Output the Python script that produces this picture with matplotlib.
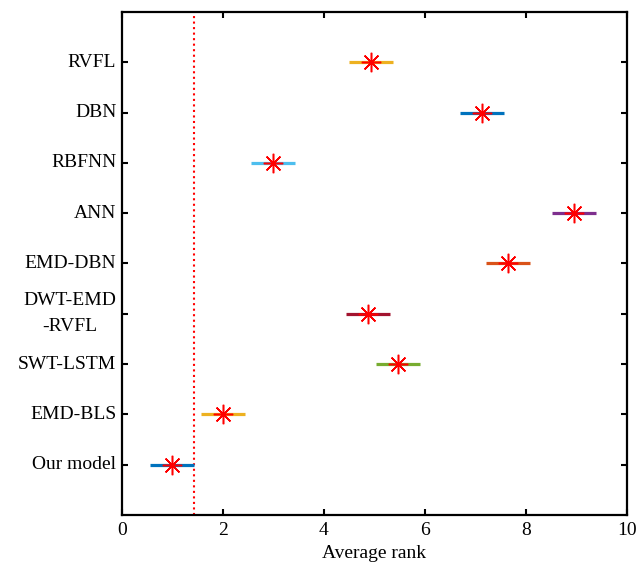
import matplotlib
matplotlib.use("Agg")
import matplotlib.pyplot as plt

models = ["Our model", "EMD-BLS", "SWT-LSTM", "DWT-EMD\n-RVFL", "EMD-DBN",
          "ANN", "RBFNN", "DBN", "RVFL"]
avg_rank = [1.0, 2.0, 5.47, 4.88, 7.65, 8.95, 3.0, 7.13, 4.94]
half_cd = 0.435
colors = ["#0072BD", "#EDB120", "#77AC30", "#A2142F", "#D95319",
          "#7E2F8E", "#4DBEEE", "#0072BD", "#EDB120"]
xticks = [0, 2, 4, 6, 8, 10]

plt.rcParams['font.family'] = ['Liberation Serif', 'DejaVu Serif']

fig = plt.figure(figsize=(6.38, 5.63), dpi=100)
ax = fig.add_axes([0.191, 0.0853, 0.792, 0.8934])

for i, (r, c) in enumerate(zip(avg_rank, colors)):
    y = i + 1
    ax.plot([r - half_cd, r + half_cd], [y, y], color=c, lw=2.3, solid_capstyle='butt', zorder=2)
    ax.plot([r], [y], marker=(8, 2, 0), color='red', markersize=14, mew=1.1, zorder=3)

ax.axvline(avg_rank[0] + half_cd, color='red', ls=':', lw=1.5, zorder=1)

ax.set_xlim(0, 10)
ax.set_ylim(0, 10)
ax.set_xticks(xticks)
ax.set_xticklabels([str(t) for t in xticks])
ax.set_yticks(range(1, len(models) + 1))
ax.set_yticklabels(models, multialignment='center', linespacing=1.7, va='center')
ax.tick_params(direction='in', top=True, right=True, length=4.5, width=1.5, labelsize=14)
ax.tick_params(axis='y', pad=4)
ax.tick_params(axis='x', pad=5)
for s in ax.spines.values():
    s.set_linewidth(1.6)
ax.set_xlabel("Average rank", fontsize=14, labelpad=4.5)

fig.savefig("out.png", dpi=100)
